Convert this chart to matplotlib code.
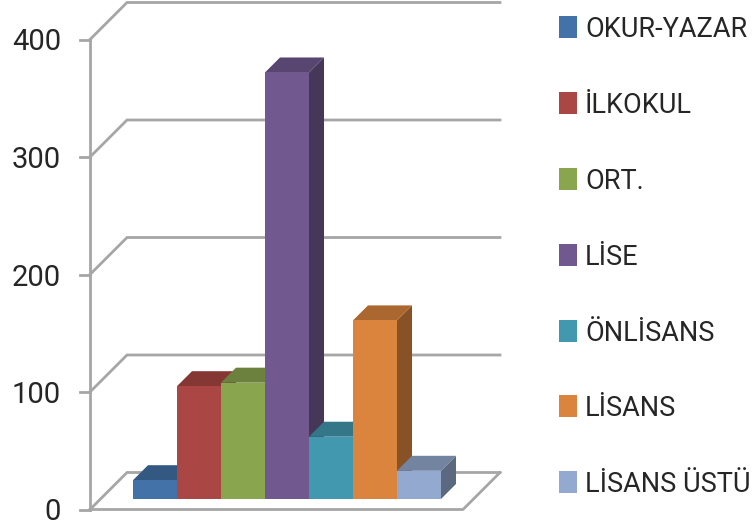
"""3D style column chart drawn on a flat axes."""

import matplotlib
matplotlib.use("Agg")
import matplotlib.pyplot as plt
import matplotlib.colors as mcolors
from matplotlib.patches import Polygon, Rectangle

categories = ["OKUR-YAZAR", "İLKOKUL", "ORT.", "LİSE", "ÖNLİSANS", "LİSANS", "LİSANS ÜSTÜ"]
values = [16, 96, 99, 363, 53, 152, 24]
colors = ["#4272A8", "#AA4643", "#89A54E", "#71588F", "#4198AF", "#DB843D", "#93A9CF"]
y_ticks = [0, 100, 200, 300, 400]

W, H = 753, 529
UX = 44.0    # px per category
UY = 1.175   # px per value
X0 = 133.0   # px of first bar's left edge
Y0 = 509.5   # px of value 0 on the axis

plt.rcParams["font.family"] = ["Roboto", "DejaVu Sans"]
fig = plt.figure(figsize=(W / 100, H / 100), dpi=100)
ax = fig.add_axes([0, 0, 1, 1])
ax.set_xlim(-X0 / UX, (W - X0) / UX)
ax.set_ylim(-(H - Y0) / UY, Y0 / UY)
ax.axis("off")


def dx(px):
    return px / UX


def dy(px):
    return px / UY


wall_left = dx(90 - X0)
wall_dx, wall_dy = dx(37), dy(37)
wall_right = dx(500 - X0)
grid_color = "#A6A6A6"
lw = 2.0

# back wall gridlines and side wall diagonals
for t in y_ticks + [500]:
    ax.plot([wall_left, wall_left + wall_dx, wall_right],
            [t, t + wall_dy, t + wall_dy], color=grid_color, lw=lw, solid_joinstyle="miter", zorder=1)
ax.plot([wall_left, wall_left], [0, 400], color=grid_color, lw=lw, zorder=1)

# floor front edge
floor_front = wall_right - wall_dx
ax.plot([wall_left, floor_front, wall_right], [0, 0, wall_dy], color=grid_color, lw=lw, zorder=1)
for t in y_ticks:
    ax.plot([wall_left - dx(10), wall_left], [t, t], color=grid_color, lw=lw, zorder=1)
    ax.text(dx(61 - X0), t - dy(11), str(t), ha="right", va="baseline", fontsize=21, color="#262626")

# bars, back faces first so neighbours overlap properly
base = dy(10.5)
depth_x, depth_y = dx(15), dy(15)
for i in range(len(values) - 1, -1, -1):
    v = values[i]
    c = colors[i]
    rgb = mcolors.to_rgb(c)
    dark = tuple(k * 0.62 for k in rgb)
    mid = tuple(k * 0.78 for k in rgb)
    z = 3 + i
    ax.add_patch(Polygon([(i + 1, base), (i + 1 + depth_x, base + depth_y),
                          (i + 1 + depth_x, base + v + depth_y), (i + 1, base + v)],
                         facecolor=dark, edgecolor="none", zorder=z))
    ax.add_patch(Polygon([(i, base + v), (i + depth_x, base + v + depth_y),
                          (i + 1 + depth_x, base + v + depth_y), (i + 1, base + v)],
                         facecolor=mid, edgecolor="none", zorder=z))
    ax.add_patch(Rectangle((i, base), 1, v, facecolor=c, edgecolor="none", zorder=z))

# legend
legend_y = [27, 103, 179, 255, 331, 406, 482]
for name, c, py in zip(categories, colors, legend_y):
    ax.add_patch(Rectangle((dx(559 - X0), (Y0 - py - 11) / UY), dx(18), dy(22), facecolor=c, edgecolor="none"))
    ax.text(dx(585 - X0), (Y0 - py - 10) / UY, name, ha="left", va="baseline", fontsize=19.5, color="#262626")

fig.savefig("out.png", dpi=100)
